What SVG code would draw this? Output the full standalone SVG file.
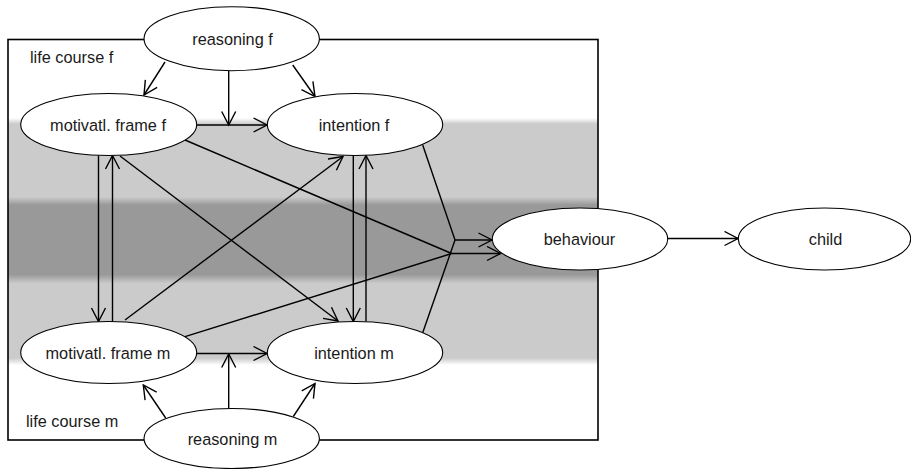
<svg xmlns="http://www.w3.org/2000/svg" width="911" height="469" viewBox="0 0 911 469">
<style>
.node ellipse{fill:#fff;stroke:#000;stroke-width:1.1}
text{font-family:"Liberation Sans",Arial,sans-serif;font-size:16.3px;fill:#1a1a1a}
.node text{text-anchor:middle}
#connectors line,#connectors polyline{stroke:#000;stroke-width:1.4;fill:none}
.arr{marker-end:url(#ah)}
</style>
<defs>
<marker id="ah" markerUnits="userSpaceOnUse" viewBox="0 0 16 16" refX="14.5" refY="8" markerWidth="16" markerHeight="16" orient="auto">
<path d="M1,1 L14.5,8 L1,15" fill="none" stroke="#000" stroke-width="1.4"/>
</marker>
<linearGradient id="bands" gradientUnits="userSpaceOnUse" x1="0" y1="118" x2="0" y2="365">
<stop offset="0" stop-color="#ffffff"/>
<stop offset="0.024" stop-color="#cbcbcb"/>
<stop offset="0.32" stop-color="#cbcbcb"/>
<stop offset="0.352" stop-color="#999999"/>
<stop offset="0.634" stop-color="#999999"/>
<stop offset="0.67" stop-color="#cbcbcb"/>
<stop offset="0.972" stop-color="#cbcbcb"/>
<stop offset="1" stop-color="#ffffff"/>
</linearGradient>
</defs>
<g id="background">
<rect x="8" y="118" width="590" height="247" fill="url(#bands)"/>
<rect x="8" y="39.5" width="590" height="400.5" fill="none" stroke="#000" stroke-width="1.6"/>
<text x="30" y="63">life course f</text>
<text x="26" y="427">life course m</text>
</g>
<g id="connectors">
<line class="arr" x1="165" y1="62" x2="144" y2="95"/>
<line class="arr" x1="228.7" y1="71" x2="228.7" y2="125"/>
<line class="arr" x1="292.7" y1="65" x2="315" y2="96.5"/>
<line class="arr" x1="196.7" y1="125" x2="267" y2="125"/>
<line class="arr" x1="98.5" y1="155" x2="98.5" y2="321.5"/>
<line class="arr" x1="112.5" y1="321.5" x2="112.5" y2="155.5"/>
<line class="arr" x1="353.3" y1="155.5" x2="353.3" y2="321.5"/>
<line class="arr" x1="366" y1="321.5" x2="366" y2="155.5"/>
<line class="arr" x1="120" y1="156" x2="338" y2="321"/>
<line class="arr" x1="125" y1="320" x2="343" y2="156.5"/>
<line x1="185" y1="140" x2="451.7" y2="253.5"/>
<line x1="185" y1="336.7" x2="451.7" y2="253.5"/>
<line x1="422.7" y1="145" x2="455" y2="240"/>
<line x1="422.7" y1="332.7" x2="455" y2="240"/>
<line class="arr" x1="455" y1="240" x2="492" y2="240"/>
<line class="arr" x1="451.7" y1="253.5" x2="500.5" y2="253.5"/>
<line class="arr" x1="196.7" y1="353.5" x2="267" y2="353.5"/>
<line class="arr" x1="228.7" y1="408" x2="228.7" y2="354"/>
<line class="arr" x1="165.7" y1="418" x2="143.3" y2="385"/>
<line class="arr" x1="293.3" y1="416.5" x2="315" y2="383.5"/>
<line class="arr" x1="667.5" y1="238.5" x2="738" y2="238.5"/>
</g>
<g id="reasoning-f" class="node"><ellipse cx="231.7" cy="38.7" rx="87.7" ry="32"/><text x="232.5" y="45">reasoning f</text></g>
<g id="motivatl-frame-f" class="node"><ellipse cx="108.7" cy="124.5" rx="88" ry="31"/><text x="108" y="131">motivatl. frame f</text></g>
<g id="intention-f" class="node"><ellipse cx="355" cy="124.5" rx="87.7" ry="31"/><text x="354" y="131">intention f</text></g>
<g id="motivatl-frame-m" class="node"><ellipse cx="108.7" cy="352.5" rx="88" ry="31"/><text x="108" y="359">motivatl. frame m</text></g>
<g id="intention-m" class="node"><ellipse cx="355" cy="352.5" rx="87.7" ry="31"/><text x="354" y="359">intention m</text></g>
<g id="reasoning-m" class="node"><ellipse cx="231.7" cy="438.5" rx="87.7" ry="30"/><text x="232.5" y="445">reasoning m</text></g>
<g id="behaviour" class="node"><ellipse cx="580" cy="239" rx="87.7" ry="31"/><text x="579.5" y="245">behaviour</text></g>
<g id="child" class="node"><ellipse cx="824.5" cy="239" rx="86.2" ry="31"/><text x="825.5" y="245">child</text></g>
</svg>
